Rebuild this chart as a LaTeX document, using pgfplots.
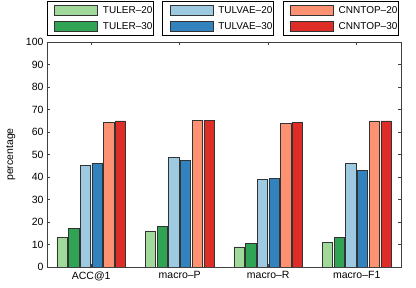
\documentclass[border=0pt]{standalone}
\usepackage{pgfplots}
\pgfplotsset{compat=1.18}
\usepackage{fontspec}
\setmainfont{Liberation Sans}
\definecolor{g1}{HTML}{A1D99B}
\definecolor{g2}{HTML}{31A354}
\definecolor{b1}{HTML}{9ECAE1}
\definecolor{b2}{HTML}{3182BD}
\definecolor{r1}{HTML}{FC9272}
\definecolor{r2}{HTML}{DE2D26}
\pgfplotsset{
  legax/.style={at={(0,0)}, anchor=south west, scale only axis, width=354pt, height=225pt,
    hide axis, xmin=0, xmax=1, ymin=0, ymax=1,
    legend style={anchor=north west, draw=black, line width=0.8pt,
      font=\fontsize{10}{11}\selectfont, inner xsep=0pt, inner ysep=4pt,
      nodes={inner sep=1pt}, cells={anchor=west}, column sep=4pt, row sep=5.5pt},
    legend image code/.code={\path (-7pt,0pt); \draw[##1] (0pt,-5pt) rectangle (43pt,5pt);}},
  barst/.style={draw=black!80, line width=0.6pt}
}
\begin{document}
\begin{tikzpicture}
\useasboundingbox (-47pt,-21pt) rectangle (369pt,267pt);
\begin{axis}[at={(0,0)}, anchor=south west, scale only axis, width=354pt, height=225pt,
  ybar, bar width=10.3pt, ybar=1.4pt,
  xmin=-0.5, xmax=3.5, ymin=0, ymax=100,
  xtick={0,1,2,3}, xticklabels={ACC@1,macro–P,macro–R,macro–F1},
  ytick={0,10,...,100},
  tick align=inside, major tick length=3pt,
  axis line style={black!75, line width=0.8pt},
  tick style={black!75, line width=0.8pt},
  /pgf/number format/assume math mode=true,
  tick label style={font=\fontsize{10.5}{12}\selectfont},
  ylabel={percentage},
  ylabel style={at={(axis description cs:-0.102,0.5)}, anchor=center, font=\fontsize{10.5}{12}\selectfont},
  xticklabel style={yshift=-1pt},
]
\addplot[barst, fill=g1] coordinates {(0,13.2) (1,16.0) (2,8.9) (3,11.1)};
\addplot[barst, fill=g2] coordinates {(0,17.0) (1,17.9) (2,10.4) (3,13.2)};
\addplot[barst, fill=b1] coordinates {(0,45.3) (1,48.6) (2,38.8) (3,45.9)};
\addplot[barst, fill=b2] coordinates {(0,45.9) (1,47.3) (2,39.3) (3,43.0)};
\addplot[barst, fill=r1] coordinates {(0,64.3) (1,65.3) (2,63.9) (3,64.9)};
\addplot[barst, fill=r2] coordinates {(0,64.9) (1,65.3) (2,64.3) (3,64.9)};
\end{axis}
\begin{axis}[legax, legend style={at={(0,1.1836)}}]
\addlegendimage{barst, fill=g1}\addlegendentry{TULER–20}
\addlegendimage{barst, fill=g2}\addlegendentry{TULER–30}
\end{axis}
\begin{axis}[legax, legend style={at={(0.3257,1.1836)}}]
\addlegendimage{barst, fill=b1}\addlegendentry{TULVAE–20}
\addlegendimage{barst, fill=b2}\addlegendentry{TULVAE–30}
\end{axis}
\begin{axis}[legax, legend style={at={(0.6658,1.1836)}}]
\addlegendimage{barst, fill=r1}\addlegendentry{CNNTOP–20}
\addlegendimage{barst, fill=r2}\addlegendentry{CNNTOP–30}
\end{axis}
\end{tikzpicture}
\end{document}
